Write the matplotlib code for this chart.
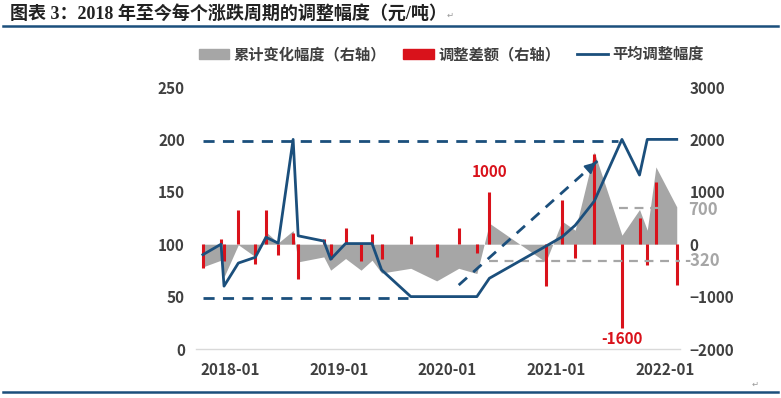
import matplotlib

matplotlib.use("Agg")
import matplotlib.pyplot as plt
import pandas as pd
from matplotlib.lines import Line2D
from matplotlib.patches import Patch

plt.rcParams["font.family"] = ["Noto Sans CJK SC", "DejaVu Sans"]

# ─────────────────────────────────────────────
# 数据（从图上读出，单位：元/吨）
# ─────────────────────────────────────────────
dates = [
    "2017-10-02", "2017-12-02", "2017-12-12", "2018-01-29", "2018-03-27",
    "2018-05-02", "2018-06-12", "2018-08-01", "2018-08-18", "2018-11-12",
    "2018-12-05", "2019-01-24", "2019-03-17", "2019-04-23", "2019-05-25",
    "2019-08-31", "2019-11-26", "2020-02-08", "2020-04-09", "2020-05-21",
    "2020-11-26", "2021-01-20", "2021-03-05", "2021-05-08", "2021-08-09",
    "2021-10-07", "2021-11-02", "2021-12-01", "2022-02-09",
]
# 调整差额（右轴）
diff = [
    -460, 105, -330, 650, -370,
    650, -210, 205, -655, 108,
    -290, 311, -324, 204, -290,
    160, -242, 311, -160, 1000,
    -800, 845, -261, 1730, -1600,
    509, -400, 1190, -782,
]
# 累计变化幅度（右轴）
cum = [
    -433, -305, -625, -10, -240,
    235, 25, 260, -337, -242,
    -496, -273, -496, -305, -550,
    -460, -700, -460, -560, 400,
    -340, 440, 267, 1761, 172,
    662, 267, 1475, 712,
]
# 平均调整幅度（左轴）
avg = [
    90, 100, 60, 82, 87.5,
    106.6, 101, 200, 108, 103,
    85.6, 100.6, 100.6, 100.6, 75.5,
    50, 50, 50, 50, 67.5,
    98, 107, 118, 141, 200,
    166, 200, 200, 200,
]

x_ticks = ["2018-01-01", "2019-01-01", "2020-01-01", "2021-01-01", "2022-01-01"]
x_labels = ["2018-01", "2019-01", "2020-01", "2021-01", "2022-01"]
left_ticks = [0, 50, 100, 150, 200, 250]
right_ticks = [-2000, -1000, 0, 1000, 2000, 3000]

# 辅助线（左轴）
top_guide_x, top_guide_y = ["2017-10-02", "2021-07-28"], [198, 198]
low_guide_x, low_guide_y = ["2017-10-02", "2019-08-22"], [49, 49]
trend_x, trend_y = ["2020-02-08", "2021-05-21"], [61, 180]
# 参考线（右轴）
ref_hi_x, ref_hi_y = ["2021-07-31", "2022-02-20"], [700, 700]
ref_lo_x, ref_lo_y = ["2020-05-20", "2022-02-20"], [-320, -320]

BLUE = "#1b4f7c"
RED = "#d9121b"
GREY = "#a6a6a6"
TXT = "#404040"

d = pd.to_datetime(dates)

fig = plt.figure(figsize=(7.81, 3.98), dpi=100)
ax = fig.add_axes((0.251, 0.1231, 0.6197, 0.6583))  # 右轴：面积 + 柱
ax2 = ax.twinx()  # 左轴：折线（画在上层）

# 面积与差额柱
ax.fill_between(d, cum, 0, color=GREY, lw=0, zorder=1)
ax.vlines(d, 0, diff, color=RED, lw=2.2, zorder=2)
ax.plot(pd.to_datetime(ref_hi_x), ref_hi_y, color=GREY, lw=1.6, dashes=(4, 3), zorder=3)
ax.plot(pd.to_datetime(ref_lo_x), ref_lo_y, color=GREY, lw=1.6, dashes=(4, 3), zorder=3)

# 平均调整幅度
ax2.plot(d, avg, color=BLUE, lw=2.0, zorder=4)
ax2.plot(pd.to_datetime(top_guide_x), top_guide_y, color=BLUE, lw=2.0, dashes=(4, 3))
ax2.plot(pd.to_datetime(low_guide_x), low_guide_y, color=BLUE, lw=2.0, dashes=(4, 3))
tx = pd.to_datetime(trend_x)
ax2.plot(tx, trend_y, color=BLUE, lw=2.0, dashes=(4, 3))
head_start = tx[1] - (tx[1] - tx[0]) * 0.06
ax2.annotate(
    "",
    xy=(tx[1], trend_y[1]),
    xytext=(head_start, trend_y[1] - (trend_y[1] - trend_y[0]) * 0.06),
    arrowprops=dict(arrowstyle="-|>", color=BLUE, lw=1.5, mutation_scale=16),
)

# 坐标轴
ax.set_xlim(pd.Timestamp("2017-09-09"), pd.Timestamp("2022-02-20"))
ax.set_ylim(-2000, 3000)
ax2.set_ylim(0, 250)
ax.set_xticks(pd.to_datetime(x_ticks))
ax.set_xticklabels(x_labels)
ax.set_yticks(right_ticks)
ax2.set_yticks(left_ticks)
ax.yaxis.tick_right()
ax2.yaxis.tick_left()

for a in (ax, ax2):
    for s in a.spines.values():
        s.set_visible(False)
ax.spines["bottom"].set_visible(True)
ax.spines["bottom"].set_color("#d9d9d9")
ax.spines["bottom"].set_linewidth(1.0)

ax.tick_params(axis="x", length=0, pad=9, labelsize=11, labelcolor=TXT)
ax.tick_params(axis="y", length=0, pad=7, labelsize=11, labelcolor=TXT)
ax2.tick_params(axis="y", length=0, pad=8, labelsize=11, labelcolor=TXT)
for lab in ax.get_xticklabels() + ax.get_yticklabels() + ax2.get_yticklabels():
    lab.set_fontweight("bold")

# 数值标注
ax.text(d[19], 1380, "1000", color=RED, fontsize=11, fontweight="bold", ha="center", va="center")
ax.text(d[24], -1800, "-1600", color=RED, fontsize=11, fontweight="bold", ha="center", va="center")
ax.text(1.016, 660, "700", transform=ax.get_yaxis_transform(), color=GREY,
        fontsize=12, fontweight="bold", ha="left", va="center")
ax.text(1.008, -330, "-320", transform=ax.get_yaxis_transform(), color=GREY,
        fontsize=12, fontweight="bold", ha="left", va="center")

# 图例
handles = [
    Patch(color=GREY),
    Patch(color=RED),
    Line2D([], [], color=BLUE, lw=2.0),
]
names = ["累计变化幅度（右轴）", "调整差额（右轴）", "平均调整幅度"]
fig.legend(
    handles, names, loc="center", bbox_to_anchor=(0.578, 0.864), ncol=3,
    frameon=False, handlelength=2.0, handleheight=0.65, handletextpad=0.3,
    columnspacing=1.1, prop={"size": 11, "weight": "bold"}, labelcolor=TXT,
)

# 标题与上下分隔线
fig.text(
    0.013, 0.966, "图表 3：2018 年至今每个涨跌周期的调整幅度（元/吨）",
    family=["Liberation Serif", "Noto Sans CJK SC"], fontsize=13,
    fontweight="bold", color="#222222", ha="left", va="center",
)
fig.text(0.572, 0.962, "↵", family="DejaVu Sans", fontsize=6, color="#999999", va="center")
fig.text(0.962, 0.035, "↵", family="DejaVu Sans", fontsize=6, color="#999999", va="center")
fig.add_artist(Line2D([0.004, 0.996], [0.935, 0.935], transform=fig.transFigure, color=BLUE, lw=1.8))
fig.add_artist(Line2D([0.004, 0.996], [0.014, 0.014], transform=fig.transFigure, color=BLUE, lw=1.8))

fig.savefig("out.png", dpi=100)
plt.close(fig)
